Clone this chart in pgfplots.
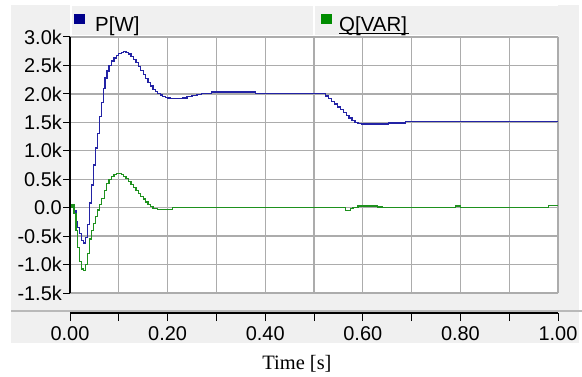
\documentclass[border=0pt]{standalone}
\usepackage{pgfplots}
\pgfplotsset{compat=1.18}
\usepackage{fontspec}
\setmainfont{Liberation Sans}
\newfontfamily\timesfont{Liberation Serif}

\definecolor{panel}{RGB}{240,240,240}
\definecolor{sepline}{RGB}{185,185,185}
\definecolor{gridc}{RGB}{172,172,172}
\definecolor{pline}{RGB}{35,35,165}
\definecolor{qline}{RGB}{30,145,30}
\definecolor{pkey}{RGB}{0,0,140}
\definecolor{qkey}{RGB}{0,140,0}

\pgfplotstableread{
t P
0.000 0
0.004 60
0.008 -50
0.012 -250
0.016 -350
0.020 -450
0.024 -580
0.028 -620
0.032 -520
0.036 -300
0.040 80
0.044 400
0.048 750
0.052 1050
0.056 1300
0.060 1600
0.064 1850
0.068 2100
0.072 2280
0.076 2400
0.080 2500
0.085 2580
0.090 2630
0.095 2680
0.100 2710
0.105 2730
0.110 2740
0.115 2730
0.120 2700
0.125 2660
0.130 2610
0.135 2550
0.140 2480
0.145 2410
0.150 2340
0.155 2270
0.160 2200
0.165 2140
0.170 2080
0.175 2040
0.180 2010
0.185 1980
0.190 1960
0.195 1940
0.200 1930
0.205 1920
0.210 1915
0.220 1915
0.230 1930
0.240 1950
0.250 1975
0.260 1995
0.270 2005
0.290 2035
0.380 2010
0.518 2010
0.524 1965
0.530 1920
0.536 1870
0.542 1820
0.548 1770
0.554 1720
0.560 1670
0.566 1620
0.572 1575
0.578 1530
0.584 1500
0.590 1480
0.598 1470
0.652 1490
0.687 1520
1.000 1520
}\ptable

\pgfplotstableread{
t Q
0.000 0
0.004 60
0.008 -100
0.012 -400
0.016 -700
0.020 -950
0.024 -1080
0.028 -1100
0.032 -1000
0.036 -800
0.040 -550
0.044 -400
0.048 -280
0.052 -150
0.056 -40
0.060 50
0.065 160
0.070 300
0.075 420
0.080 500
0.085 550
0.090 580
0.095 600
0.100 600
0.105 580
0.110 550
0.115 510
0.120 460
0.125 410
0.130 360
0.135 300
0.140 250
0.145 200
0.150 150
0.155 100
0.160 60
0.165 20
0.170 -20
0.180 -30
0.210 0
0.560 0
0.565 -50
0.575 -20
0.580 0
0.590 30
0.620 30
0.630 10
0.640 0
0.785 0
0.790 30
0.800 0
0.980 40
1.000 40
}\qtable

\begin{document}
\begin{tikzpicture}[x=1bp,y=1bp]
\useasboundingbox (0,0) rectangle (582,376);
% grey panels around the plot area
\fill[panel] (11,65) rectangle (70,371);
\fill[panel] (72,341) rectangle (558,370);
\fill[panel] (558,65) rectangle (579,371);
\fill[panel] (11,65) rectangle (579,83);
\fill[panel] (11,33) rectangle (579,64);
\draw[sepline, line width=1.5bp] (11,65) -- (582,65);
\draw[white, line width=1.5bp] (314,341) -- (314,371);

% legend header
\fill[pkey] (74,352) rectangle (85,362);
\node[anchor=base west, inner sep=0pt, font=\fontsize{20.5}{23}\selectfont] at (95,345) {P[W]};
\fill[qkey] (321,352) rectangle (332,362);
\node[anchor=base west, inner sep=0pt, font=\fontsize{20.5}{23}\selectfont] at (339,345) {Q[VAR]};
\draw[black, line width=0.9bp] (339,342.5) -- (409,342.5);

% main plot
\begin{axis}[
  at={(70bp,83bp)}, anchor=south west,
  scale only axis, width=488bp, height=256bp,
  xmin=0, xmax=1, ymin=-1500, ymax=3000,
  axis background/.style={fill=white},
  axis line style={draw=none},
  xtick={0,0.1,...,1.01}, xticklabels={},
  ytick={-1500,-1000,...,3000},
  yticklabels={-1.5k,-1.0k,-0.5k,0.0,0.5k,1.0k,1.5k,2.0k,2.5k,3.0k},
  ytick pos=left,
  tick align=outside,
  major tick length=7bp,
  x tick style={draw=none},
  y tick style={black, line width=1bp},
  yticklabel style={anchor=east, inner sep=0pt, xshift=-1bp,
    font=\fontsize{20}{22}\selectfont},
  grid=major,
  major grid style={gridc, line width=1.3bp},
  clip=true,
]
\addplot[const plot, pline, line width=1.3bp] table[x=t, y=P] {\ptable};
\addplot[const plot, qline, line width=1.3bp] table[x=t, y=Q] {\qtable};
\end{axis}
\draw[black, line width=1.5bp] (70,83) -- (70,339);

% time axis
\begin{axis}[
  at={(70bp,63bp)}, anchor=south west,
  scale only axis, width=488bp, height=1bp,
  xmin=0, xmax=1, ymin=0, ymax=1,
  axis y line=none, axis x line*=bottom,
  x axis line style={-, black, line width=1.2bp},
  xtick={0,0.2,...,1.01},
  xticklabels={0.00,0.20,0.40,0.60,0.80,1.00},
  minor xtick={0.1,0.3,...,0.95},
  tick align=outside,
  major tick length=8bp, minor tick length=8bp,
  every tick/.style={black, line width=1bp},
  xticklabel style={anchor=north, inner sep=0pt, yshift=-5bp,
    font=\fontsize{20}{22}\selectfont},
]
\end{axis}
\node[anchor=base, inner sep=0pt, font=\timesfont\fontsize{20.5}{22}\selectfont] at (297,7) {Time [s]};
\end{tikzpicture}
\end{document}
